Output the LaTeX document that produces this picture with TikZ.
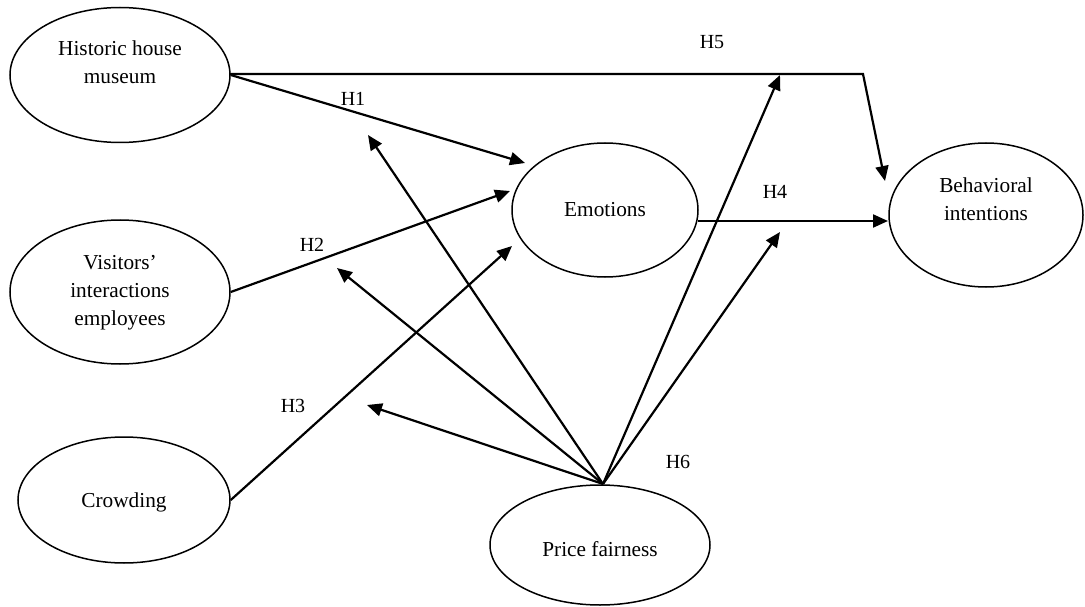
\documentclass[tikz,border=0pt]{standalone}
\usepackage{fontspec}
\setmainfont{Liberation Serif}
\usetikzlibrary{shapes.geometric,arrows.meta}
\begin{document}
\begin{tikzpicture}[x=1pt,y=-1pt,
  ell/.style={draw,line width=1.5pt,ellipse,inner sep=0pt},
  txt/.style={font=\fontsize{21.3}{28}\selectfont,align=center,inner sep=0pt},
  lab/.style={font=\fontsize{20}{24}\selectfont,inner sep=0pt},
  arr/.style={line width=2.2pt,-{Triangle[length=15pt,width=13pt]}}]
\useasboundingbox (0,0) rectangle (1085,607);
% ellipses
\node[ell,minimum width=220pt,minimum height=135pt] (hist) at (120,75) {};
\node[ell,minimum width=220pt,minimum height=144pt] (vis) at (120,292) {};
\node[ell,minimum width=212pt,minimum height=126pt] (crowd) at (124,500) {};
\node[ell,minimum width=186pt,minimum height=134pt] (emo) at (605,210) {};
\node[ell,minimum width=194pt,minimum height=144pt] (beh) at (986,215) {};
\node[ell,minimum width=220pt,minimum height=120pt] (price) at (600,545) {};
% texts
\node[txt] (thist) at (120,62) {Historic house\\museum};
\node[txt] (tvis) at (120,293) {Visitors’\\interactions\\employees};
\node[txt] (tcrowd) at (124,502) {Crowding};
\node[txt] (temo) at (605,210) {Emotions};
\node[txt] (tbeh) at (986,199) {Behavioral\\intentions};
\node[txt] (tprice) at (600,549) {Price fairness};
% labels
\node[lab] (h1) at (353,99) {H1};
\node[lab] (h2) at (312,245) {H2};
\node[lab] (h3) at (293,406) {H3};
\node[lab] (h4) at (775,192) {H4};
\node[lab] (h5) at (712,42) {H5};
\node[lab] (h6) at (678,462) {H6};
% coordinates
\coordinate (hs) at (230,74);
\coordinate (corner) at (863,74);
\coordinate (bt) at (885,181);
\coordinate (e1) at (525,163);
\coordinate (e2) at (510,191);
\coordinate (e3) at (512,246);
\coordinate (emoR) at (698,221);
\coordinate (behL) at (888,221);
\coordinate (apex) at (603,484);
\coordinate (p1) at (368,135);
\coordinate (p2) at (337,268);
\coordinate (p3) at (367,405);
\coordinate (p4) at (780,75);
\coordinate (p5) at (780,232);
% connectors
\draw[arr] (hs) -- (corner) -- (bt);
\draw[arr] (hist.east) -- (e1);
\draw[arr] (vis.east) -- (e2);
\draw[arr] (crowd.east) -- (e3);
\draw[arr] (emoR) -- (behL);
\draw[arr] (apex) -- (p1);
\draw[arr] (apex) -- (p2);
\draw[arr] (apex) -- (p3);
\draw[arr] (apex) -- (p4);
\draw[arr] (apex) -- (p5);
\end{tikzpicture}
\end{document}
